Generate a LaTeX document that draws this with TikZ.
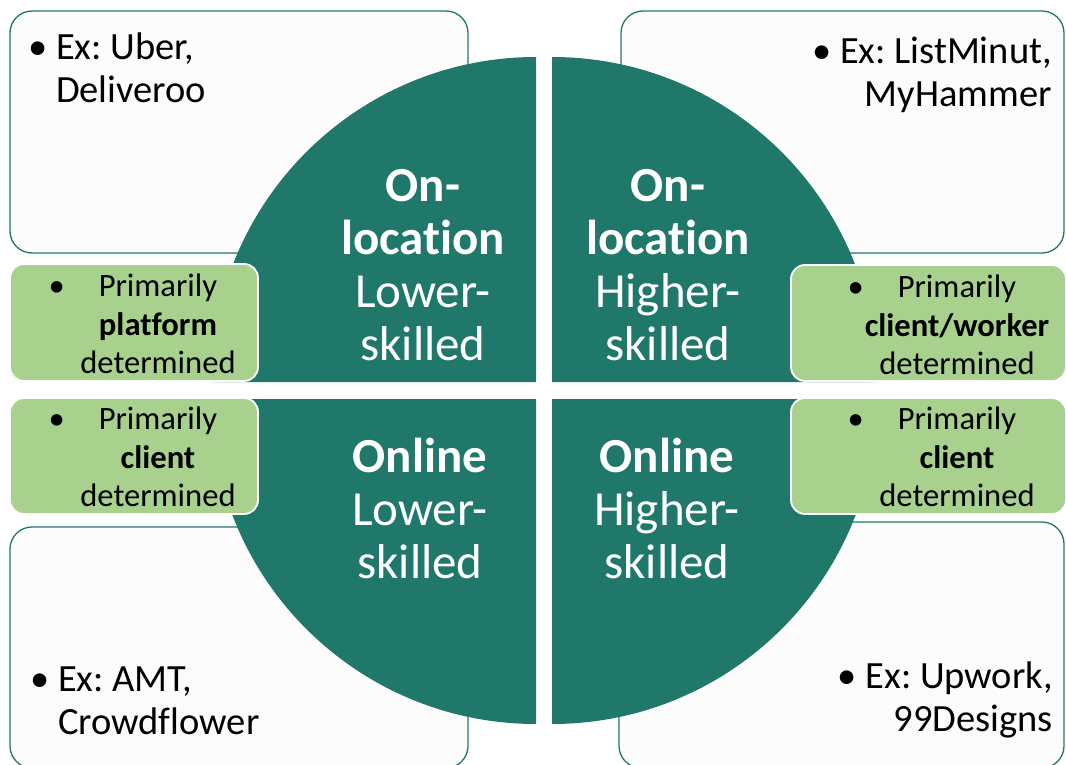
\documentclass[tikz,border=0pt]{standalone}
\usepackage{fontspec}
\setmainfont{Carlito}[Ligatures={NoCommon,NoRare}]
\usepackage{tikz}
\usetikzlibrary{positioning}
\frenchspacing

\definecolor{quadteal}{RGB}{32,120,106}
\definecolor{softgreen}{RGB}{169,209,142}
\definecolor{paper}{RGB}{252,252,252}

\begin{document}
\begin{tikzpicture}[x=1pt,y=-1pt,
  example/.style={draw=quadteal,line width=1.3pt,fill=paper,rounded corners=22pt},
  remark/.style={draw=white,line width=1.8pt,fill=softgreen,rounded corners=14pt},
  quad/.style={fill=quadteal},
  qlabel/.style={text=white,align=center,inner sep=0pt,font=\fontsize{49}{53}\selectfont},
  exlabel/.style={inner sep=0pt,font=\fontsize{38.5}{43}\selectfont},
  rmlabel/.style={align=center,inner sep=0pt,font=\fontsize{32.6}{38.5}\selectfont}]

  \useasboundingbox (0,0) rectangle (1066,765);
  \clip (0,0) rectangle (1066,765);

  % example boxes behind the circle
  \draw[example] (10,11) rectangle (468,253);
  \draw[example] (621,11) rectangle (1064,253);
  \draw[example] (10,527) rectangle (468,768);
  \draw[example] (619,522) rectangle (1064,768);

  % four quarters
  \fill[quad] (536,382) -- ++(-325,0) arc (180:270:325) -- cycle;
  \fill[quad] (552,382) -- ++(0,-325) arc (270:360:325) -- cycle;
  \fill[quad] (552,399) -- ++(325,0) arc (0:90:325) -- cycle;
  \fill[quad] (536,399) -- ++(0,325) arc (90:180:325) -- cycle;

  % green remarks on top
  \draw[remark] (10,264) rectangle (258,381);
  \draw[remark] (10,398) rectangle (258,514);
  \draw[remark] (791,265) rectangle (1066,381);
  \draw[remark] (791,398) rectangle (1066,514);

  \node[qlabel] (tl) at (423,265) {\textbf{On-}\\\textbf{location}\\Lower-\\skilled};
  \node[qlabel] (tr) at (668,265) {\textbf{On-}\\\textbf{location}\\Higher-\\skilled};
  \node[qlabel] (bl) at (420,508) {\textbf{Online}\\Lower-\\skilled};
  \node[qlabel] (br) at (667,508) {\textbf{Online}\\Higher-\\skilled};

  \node[exlabel,align=left,anchor=north west]  (extl) at (28,33)
    {\textbullet\ Ex: Uber,\\\hphantom{\textbullet\ }Deliveroo};
  \node[exlabel,align=right,anchor=north east] (extr) at (1052,37)
    {\textbullet\ Ex: ListMinut,\\MyHammer};
  \node[exlabel,align=left,anchor=south west]  (exbl) at (30,735)
    {\textbullet\ Ex: AMT,\\\hphantom{\textbullet\ }Crowdflower};
  \node[exlabel,align=right,anchor=south east] (exbr) at (1053,738)
    {\textbullet\ Ex: Upwork,\\99Designs};

  \node[rmlabel] (rmtl) at (158,324)
    {\llap{\textbullet\hspace{34pt}}Primarily\\\textbf{platform}\\determined};
  \node[rmlabel] (rmtr) at (957,325)
    {\llap{\textbullet\hspace{34pt}}Primarily\\\textbf{client/worker}\\determined};
  \node[rmlabel] (rmbl) at (158,457)
    {\llap{\textbullet\hspace{34pt}}Primarily\\\textbf{client}\\determined};
  \node[rmlabel] (rmbr) at (957,457)
    {\llap{\textbullet\hspace{34pt}}Primarily\\\textbf{client}\\determined};

\end{tikzpicture}
\end{document}
